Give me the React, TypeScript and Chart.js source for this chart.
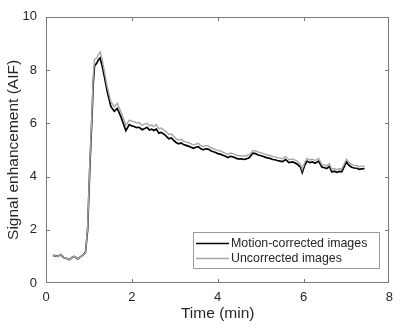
import React, { useEffect, useRef } from "react";
import { Chart, registerables } from "chart.js";

Chart.register(...registerables);

const times = [
  0.16, 0.22, 0.28, 0.34, 0.41, 0.48, 0.55, 0.6, 0.65, 0.7, 0.74, 0.8, 0.85, 0.92, 0.97,
  1.02, 1.07, 1.1, 1.13, 1.18, 1.22, 1.26, 1.31, 1.36, 1.43, 1.51, 1.59, 1.66, 1.74, 1.8,
  1.86, 1.94, 2.0, 2.05, 2.11, 2.17, 2.24, 2.3, 2.35, 2.41, 2.46, 2.51, 2.57, 2.63, 2.68,
  2.74, 2.8, 2.86, 2.92, 2.97, 3.03, 3.09, 3.15, 3.2, 3.26, 3.32, 3.38, 3.43, 3.49, 3.55,
  3.6, 3.66, 3.72, 3.78, 3.84, 3.9, 3.95, 4.0, 4.06, 4.12, 4.18, 4.24, 4.3, 4.35, 4.41,
  4.47, 4.55, 4.62, 4.68, 4.74, 4.82, 4.88, 4.93, 4.99, 5.05, 5.1, 5.16, 5.22, 5.28, 5.33,
  5.39, 5.45, 5.51, 5.58, 5.66, 5.75, 5.85, 5.93, 5.97, 6.02, 6.08, 6.15, 6.21, 6.27, 6.35,
  6.43, 6.49, 6.54, 6.6, 6.66, 6.72, 6.77, 6.83, 6.89, 6.95, 7.0, 7.06, 7.12, 7.18, 7.24,
  7.3, 7.35, 7.42,
];

const motionCorrected = [
  1.04, 1.02, 1.0, 1.07, 0.96, 0.92, 0.87, 0.95, 1.0, 0.95, 0.9, 0.98, 1.04, 1.15, 2.0,
  4.3, 6.2, 7.5, 8.15, 8.25, 8.38, 8.45, 8.15, 7.75, 7.17, 6.63, 6.45, 6.56, 6.27, 6.0,
  5.72, 5.95, 5.9, 5.88, 5.84, 5.85, 5.76, 5.8, 5.85, 5.75, 5.78, 5.73, 5.78, 5.63, 5.66,
  5.6, 5.52, 5.42, 5.45, 5.37, 5.28, 5.23, 5.26, 5.2, 5.17, 5.14, 5.1, 5.06, 5.1, 5.12,
  5.05, 5.0, 5.04, 5.03, 4.97, 4.93, 4.9, 4.86, 4.84, 4.8, 4.76, 4.71, 4.76, 4.74, 4.7,
  4.66, 4.66, 4.64, 4.67, 4.71, 4.88, 4.86, 4.82, 4.79, 4.76, 4.73, 4.7, 4.68, 4.64, 4.63,
  4.6, 4.58, 4.56, 4.64, 4.52, 4.55, 4.47, 4.35, 4.15, 4.4, 4.58, 4.52, 4.55, 4.5, 4.58,
  4.35, 4.33, 4.3, 4.38, 4.17, 4.2, 4.16, 4.19, 4.18, 4.38, 4.55, 4.42, 4.35, 4.32, 4.31,
  4.27, 4.29, 4.3,
];

const uncorrected = [
  1.04, 1.02, 1.0, 1.07, 0.96, 0.92, 0.87, 0.95, 1.0, 0.95, 0.9, 0.98, 1.04, 1.15, 2.1,
  4.5, 6.4, 7.75, 8.4, 8.45, 8.58, 8.68, 8.38, 7.95, 7.35, 6.82, 6.62, 6.75, 6.45, 6.2,
  5.92, 6.12, 6.08, 6.05, 6.02, 6.02, 5.93, 5.97, 6.0, 5.9, 5.94, 5.88, 5.95, 5.8, 5.82,
  5.75, 5.68, 5.58, 5.6, 5.52, 5.42, 5.37, 5.4, 5.33, 5.3, 5.27, 5.23, 5.19, 5.22, 5.25,
  5.17, 5.12, 5.16, 5.15, 5.09, 5.05, 5.01, 4.98, 4.96, 4.92, 4.87, 4.83, 4.88, 4.86, 4.82,
  4.78, 4.78, 4.76, 4.79, 4.82, 4.98, 4.96, 4.93, 4.9, 4.87, 4.84, 4.81, 4.79, 4.75, 4.74,
  4.71, 4.69, 4.67, 4.75, 4.63, 4.66, 4.58, 4.46, 4.26, 4.5, 4.68, 4.62, 4.65, 4.6, 4.68,
  4.45, 4.43, 4.4, 4.48, 4.27, 4.3, 4.26, 4.29, 4.28, 4.48, 4.65, 4.52, 4.45, 4.42, 4.41,
  4.37, 4.39, 4.39,
];

const xTicks = [0, 2, 4, 6, 8];
const yTicks = [0, 2, 4, 6, 8, 10];
const seriesLabels = ["Motion-corrected images", "Uncorrected images"];
const seriesColors = ["#000000", "#a6a6a6"];

const FONT = "Liberation Sans, Arial, Helvetica, sans-serif";

const boxPlugin = {
  id: "matlabBox",
  afterDatasetsDraw(chart: any) {
    const { ctx, chartArea } = chart;
    const { left, right, top, bottom } = chartArea;
    const xs = chart.scales.x;
    const ys = chart.scales.y;
    ctx.save();
    ctx.strokeStyle = "#7a7a7a";
    ctx.lineWidth = 1;
    const L = Math.round(left) + 0.5;
    const R = Math.round(right) - 0.5;
    const T = Math.round(top) + 0.5;
    const B = Math.round(bottom) - 0.5;
    ctx.strokeRect(L, T, R - L, B - T);
    const tl = 3.5;
    ctx.beginPath();
    xTicks.forEach((v) => {
      const px = Math.round(xs.getPixelForValue(v)) + 0.5;
      if (px <= L + 1 || px >= R - 1) return;
      ctx.moveTo(px, B);
      ctx.lineTo(px, B - tl);
      ctx.moveTo(px, T);
      ctx.lineTo(px, T + tl);
    });
    yTicks.forEach((v) => {
      const py = Math.round(ys.getPixelForValue(v)) + 0.5;
      if (py <= T + 1 || py >= B - 1) return;
      ctx.moveTo(L, py);
      ctx.lineTo(L + tl, py);
      ctx.moveTo(R, py);
      ctx.lineTo(R - tl, py);
    });
    ctx.stroke();

    // legend
    const lx = 193.5, ly = 232.5, lw = 186, lh = 36;
    ctx.fillStyle = "#ffffff";
    ctx.fillRect(lx, ly, lw, lh);
    ctx.strokeStyle = "#9a9a9a";
    ctx.strokeRect(lx, ly, lw, lh);
    ctx.font = `12.4px ${FONT}`;
    ctx.textBaseline = "middle";
    ctx.textAlign = "left";
    const rows = [243.5, 258.5];
    seriesLabels.forEach((lab, i) => {
      ctx.strokeStyle = seriesColors[i];
      ctx.lineWidth = 1.5;
      ctx.beginPath();
      ctx.moveTo(196, rows[i]);
      ctx.lineTo(229, rows[i]);
      ctx.stroke();
      ctx.fillStyle = "#262626";
      ctx.fillText(lab, 231, rows[i]);
    });
    ctx.restore();
  },
};

export default function App() {
  const ref = useRef<HTMLCanvasElement | null>(null);
  useEffect(() => {
    if (!ref.current) return;
    const mk = (vals: number[]) => times.map((t, i) => ({ x: t, y: vals[i] }));
    const chart = new Chart(ref.current, {
      type: "line",
      data: {
        datasets: [
          {
            label: seriesLabels[0],
            data: mk(motionCorrected),
            borderColor: seriesColors[0],
            borderWidth: 1.7,
            pointRadius: 0,
            tension: 0,
            order: 1,
          },
          {
            label: seriesLabels[1],
            data: mk(uncorrected),
            borderColor: seriesColors[1],
            borderWidth: 1.4,
            pointRadius: 0,
            tension: 0,
            order: 0,
          },
        ],
      },
      options: {
        animation: false,
        responsive: false,
        devicePixelRatio: 1,
        layout: { padding: { top: 4, right: 7, left: 0, bottom: 0 } },
        plugins: { legend: { display: false }, tooltip: { enabled: false } },
        scales: {
          x: {
            type: "linear",
            min: 0,
            max: 8,
            afterBuildTicks: (s: any) => {
              s.ticks = xTicks.map((v) => ({ value: v }));
            },
            afterFit: (s: any) => {
              s.height = 46;
            },
            grid: { display: false, drawTicks: false },
            border: { display: false },
            ticks: {
              padding: 7,
              color: "#262626",
              font: { family: FONT, size: 13 },
              maxRotation: 0,
            },
            title: {
              display: true,
              text: "Time (min)",
              color: "#262626",
              font: { family: FONT, size: 15.5 },
              padding: { top: 0, bottom: 6 },
            },
          },
          y: {
            type: "linear",
            min: 0,
            max: 10,
            afterBuildTicks: (s: any) => {
              s.ticks = yTicks.map((v) => ({ value: v }));
            },
            afterFit: (s: any) => {
              s.width = 46;
            },
            grid: { display: false, drawTicks: false },
            border: { display: false },
            ticks: {
              padding: 9,
              color: "#262626",
              font: { family: FONT, size: 13 },
            },
            title: {
              display: true,
              text: "Signal enhancement (AIF)",
              color: "#262626",
              font: { family: FONT, size: 15.5 },
              padding: { top: 4, bottom: 0 },
            },
          },
        },
      },
      plugins: [boxPlugin],
    });
    return () => chart.destroy();
  }, []);
  return (
    <div style={{ position: "absolute", left: 0, top: 0, width: 400, height: 329, background: "#fff" }}>
      <canvas ref={ref} width={400} height={329} style={{ display: "block" }} />
    </div>
  );
}
